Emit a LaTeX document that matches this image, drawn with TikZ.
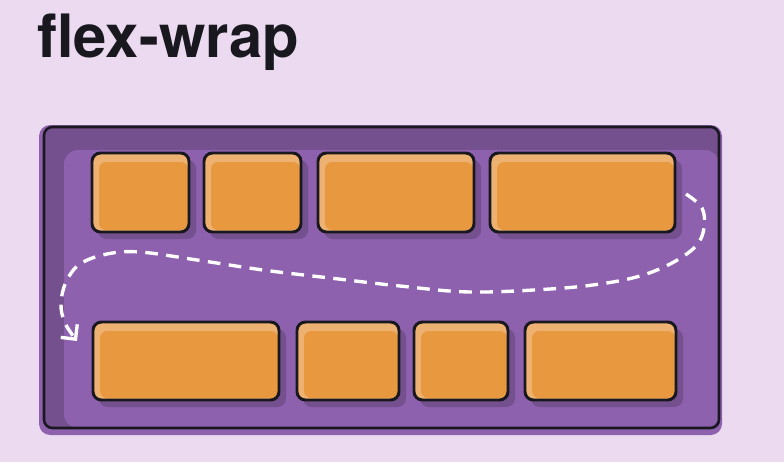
\documentclass[tikz,border=0pt]{standalone}
\usepackage{fontspec}
\usepackage{tikz}
\usetikzlibrary{arrows.meta}
\newfontfamily\titlefont{TeX Gyre Heros}
\definecolor{PageLilac}{RGB}{235,218,240}
\definecolor{BoxPurple}{RGB}{142,97,175}
\definecolor{BoxPurpleDark}{RGB}{117,80,143}
\definecolor{ItemOrange}{RGB}{232,153,63}
\definecolor{ItemLight}{RGB}{237,177,114}
\definecolor{Ink}{RGB}{24,24,30}

\begin{document}
\begin{tikzpicture}[x=0.025cm, y=-0.025cm]
    % page
    \fill[PageLilac] (0,0) rectangle (784,462);
    \node[anchor=base west, inner sep=0pt, text=Ink, font=\titlefont\bfseries\fontsize{42.5}{42.5}\selectfont] (title) at (37,57) {flex-wrap};

    % container
    \fill[BoxPurple, rounded corners=8pt] (39,125) rectangle (722,435);
    \fill[BoxPurpleDark, rounded corners=6pt] (44,127) rectangle (719,428);
    \fill[BoxPurple, rounded corners=10pt] (64,150) rectangle (719,428);
    \draw[Ink, line width=1.8pt, rounded corners=6pt] (44,127) rectangle (719,428);

    % items, first row
    \foreach \xa/\xb in {92/189, 204/301, 318/474, 490/675} {
      \fill[BoxPurpleDark, rounded corners=6pt] (\xa+6,160) rectangle (\xb+7,239);
      \fill[ItemLight, rounded corners=6pt] (\xa,153) rectangle (\xb,232);
      \fill[ItemOrange, rounded corners=5pt] (\xa+7,162) rectangle (\xb-1,230);
      \draw[Ink, line width=2.1pt, rounded corners=6pt] (\xa,153) rectangle (\xb,232);
    }
    % items, second row
    \foreach \xa/\xb in {93/279, 297/399, 414/508, 525/676} {
      \fill[BoxPurpleDark, rounded corners=6pt] (\xa+6,329) rectangle (\xb+7,407);
      \fill[ItemLight, rounded corners=6pt] (\xa,322) rectangle (\xb,400);
      \fill[ItemOrange, rounded corners=5pt] (\xa+7,331) rectangle (\xb-1,398);
      \draw[Ink, line width=2.1pt, rounded corners=6pt] (\xa,322) rectangle (\xb,400);
    }

    % wrap path
    \draw[white, line width=2.4pt, dash pattern=on 9pt off 6pt, -{Straight Barb[length=7.5pt, width=15pt]}]
      plot[smooth, tension=0.6] coordinates {(686,194) (702,208) (704,228) (696,246) (672,263) (640,276) (600,284) (550,289) (470,292) (400,286) (330,278) (263,270) (197,260) (140,252) (107,254) (80,264) (66,282) (61,304) (65,323) (77,341)};
\end{tikzpicture}
\end{document}
